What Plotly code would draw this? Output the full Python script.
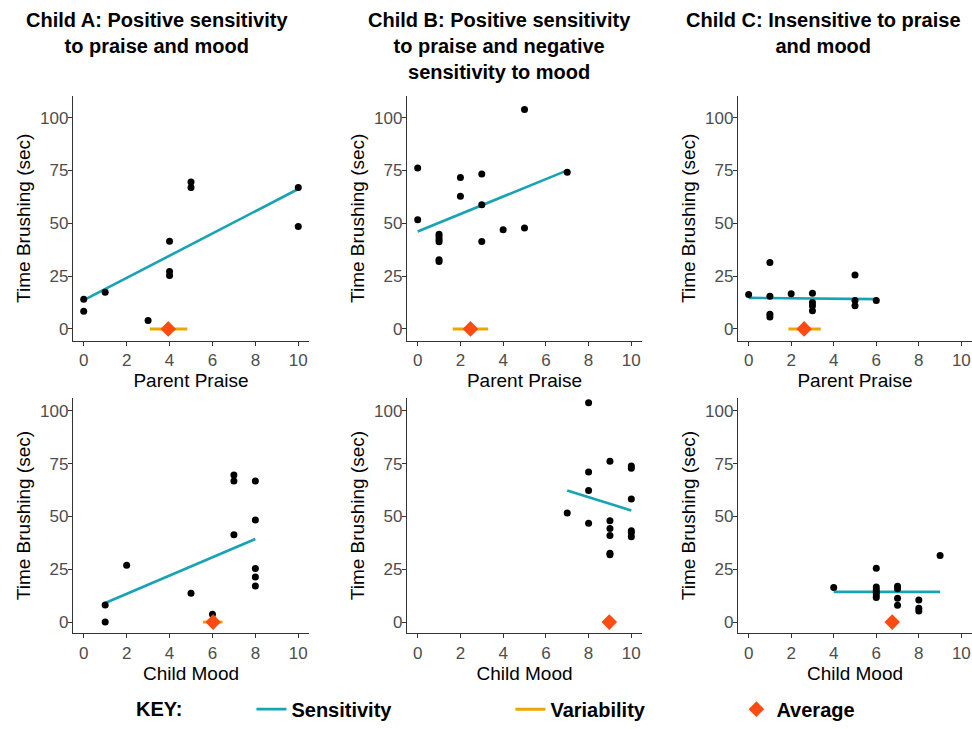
import plotly.graph_objects as go

# ---------------- data ----------------
x_tickvals = [0, 2, 4, 6, 8, 10]
y_tickvals = [0, 25, 50, 75, 100]

panel_titles = [
    "Child A: Positive sensitivity<br>to praise and mood",
    "Child B: Positive sensitivity<br>to praise and negative<br>sensitivity to mood",
    "Child C: Insensitive to praise<br>and mood",
]
x_titles = ["Parent Praise", "Child Mood"]
y_title = "Time Brushing (sec)"

# Child A
a_praise_x = [0, 0, 1, 3, 4, 4, 4, 5, 5, 10, 10]
a_praise_y = [14.0, 8.4, 17.4, 4.0, 41.5, 27.2, 25.3, 69.5, 66.9, 66.9, 48.5]
a_praise_sens_x = [0, 10]
a_praise_sens_y = [13.6, 66.2]
a_praise_avg = 3.94
a_praise_var = [3.08, 4.83]

a_mood_x = [1, 1, 2, 5, 6, 7, 7, 7, 8, 8, 8, 8, 8]
a_mood_y = [8.1, 0.0, 26.9, 13.7, 3.7, 69.6, 66.8, 41.3, 66.8, 48.3, 25.4, 21.3, 17.1]
a_mood_sens_x = [1, 8]
a_mood_sens_y = [9.0, 39.3]
a_mood_avg = 6.03
a_mood_var = [5.56, 6.47]

# Child B
b_praise_x = [0, 0, 1, 1, 1, 1, 1, 1, 2, 2, 3, 3, 3, 4, 5, 5, 7]
b_praise_y = [76.1, 51.6, 44.8, 43.6, 42.3, 41.2, 32.7, 31.9, 71.7, 62.8,
              73.3, 58.8, 41.3, 46.9, 103.8, 47.8, 74.1]
b_praise_sens_x = [0, 7]
b_praise_sens_y = [46.1, 75.0]
b_praise_avg = 2.47
b_praise_var = [1.64, 3.30]

b_mood_x = [7, 8, 8, 8, 8, 9, 9, 9, 9, 9, 9, 10, 10, 10, 10, 10, 10]
b_mood_y = [51.6, 103.8, 71.0, 62.3, 46.8, 76.1, 47.9, 44.3, 41.0, 32.6, 31.8,
            73.9, 72.8, 58.2, 43.2, 42.3, 40.4]
b_mood_sens_x = [7, 10]
b_mood_sens_y = [62.3, 52.8]
b_mood_avg = 8.97
b_mood_var = [8.85, 9.09]

# Child C
c_praise_x = [0, 1, 1, 1, 1, 2, 3, 3, 3, 3, 5, 5, 5, 6]
c_praise_y = [16.3, 31.4, 15.5, 6.9, 5.6, 16.6, 16.9, 12.5, 10.9, 8.6, 25.5, 13.4, 10.9, 13.4]
c_praise_sens_x = [0, 6]
c_praise_sens_y = [14.7, 14.1]
c_praise_avg = 2.61
c_praise_var = [1.87, 3.39]

c_mood_x = [4, 6, 6, 6, 6, 6, 6, 7, 7, 7, 7, 8, 8, 8, 9]
c_mood_y = [16.4, 25.5, 16.6, 15.3, 14.1, 12.8, 11.6, 16.9, 15.8, 11.3, 8.0, 10.5, 6.6, 5.3, 31.5]
c_mood_sens_x = [4, 9]
c_mood_sens_y = [14.3, 14.3]
c_mood_avg = 6.75
c_mood_var = [6.65, 6.85]

legend_names = ["Sensitivity", "Variability", "Average"]
legend_title = "KEY:"

# ---------------- styling ----------------
TEAL = "#17A3B3"
ORANGE = "#E8A800"
RED = "#FF4A12"
AXIS_COL = "#333333"
TICK_COL = "#4D4D4D"
BASE_FONT = "Liberation Sans, Arial, sans-serif"
BOLD_FONT = "Liberation Sans, Arial, sans-serif"

W, H = 972, 729
col_px = [(73, 309), (407, 642), (738, 972)]
row_px = [(97, 345), (403, 641)]
row_yrange = [[-5.6, 110.3], [-5.2, 106.0]]

panels = [
    # (row, col, xs, ys, sens_x, sens_y, avg, var)
    (0, 0, a_praise_x, a_praise_y, a_praise_sens_x, a_praise_sens_y, a_praise_avg, a_praise_var),
    (0, 1, b_praise_x, b_praise_y, b_praise_sens_x, b_praise_sens_y, b_praise_avg, b_praise_var),
    (0, 2, c_praise_x, c_praise_y, c_praise_sens_x, c_praise_sens_y, c_praise_avg, c_praise_var),
    (1, 0, a_mood_x, a_mood_y, a_mood_sens_x, a_mood_sens_y, a_mood_avg, a_mood_var),
    (1, 1, b_mood_x, b_mood_y, b_mood_sens_x, b_mood_sens_y, b_mood_avg, b_mood_var),
    (1, 2, c_mood_x, c_mood_y, c_mood_sens_x, c_mood_sens_y, c_mood_avg, c_mood_var),
]

fig = go.Figure()
layout_axes = {}
for i, (r, c, xs, ys, sx, sy, avg, var) in enumerate(panels):
    n = i + 1
    xa = "x" if n == 1 else f"x{n}"
    ya = "y" if n == 1 else f"y{n}"
    first = n == 1
    # sensitivity (regression) line
    fig.add_trace(go.Scatter(x=sx, y=sy, mode="lines", xaxis=xa, yaxis=ya,
                             line=dict(color=TEAL, width=2.6),
                             name=legend_names[0], legendgroup="s", showlegend=first,
                             legendwidth=214, hoverinfo="skip"))
    # variability
    fig.add_trace(go.Scatter(x=var, y=[0, 0], mode="lines", xaxis=xa, yaxis=ya,
                             line=dict(color=ORANGE, width=3),
                             name=legend_names[1], legendgroup="v", showlegend=first,
                             legendwidth=181, hoverinfo="skip"))
    # observations
    fig.add_trace(go.Scatter(x=xs, y=ys, mode="markers", xaxis=xa, yaxis=ya,
                             marker=dict(color="black", size=7),
                             showlegend=False))
    # average
    fig.add_trace(go.Scatter(x=[avg], y=[0], mode="markers", xaxis=xa, yaxis=ya,
                             marker=dict(color=RED, size=12, symbol="diamond"),
                             name=legend_names[2], legendgroup="a", showlegend=first))

    x0, x1 = col_px[c]
    y0, y1 = row_px[r]
    xkey = "xaxis" if n == 1 else f"xaxis{n}"
    ykey = "yaxis" if n == 1 else f"yaxis{n}"
    layout_axes[xkey] = dict(
        domain=[x0 / W, x1 / W], anchor=ya, range=[-0.5, 10.5],
        tickmode="array", tickvals=x_tickvals, ticks="outside", ticklen=4,
        tickwidth=1.2, tickcolor=AXIS_COL,
        showline=True, linecolor=AXIS_COL, linewidth=1.3,
        showgrid=False, zeroline=False,
        ticklabeloverflow="allow",
        tickfont=dict(family=BASE_FONT, size=17, color=TICK_COL),
        title=dict(text=x_titles[r], font=dict(family=BASE_FONT, size=19, color="black"), standoff=4),
    )
    layout_axes[ykey] = dict(
        domain=[1 - y1 / H, 1 - y0 / H], anchor=xa, range=row_yrange[r],
        tickmode="array", tickvals=y_tickvals, ticks="outside", ticklen=4,
        tickwidth=1.2, tickcolor=AXIS_COL,
        showline=True, linecolor=AXIS_COL, linewidth=1.3,
        showgrid=False, zeroline=False,
        ticklabelstandoff=-4,
        tickfont=dict(family=BASE_FONT, size=17, color=TICK_COL),
        title=dict(text=y_title, font=dict(family=BASE_FONT, size=19, color="black"), standoff=4),
    )

title_cx = [157, 499, 823]
annotations = [
    dict(text=t, x=title_cx[k] / W, y=1 - 7 / H, xref="paper", yref="paper",
         xanchor="center", yanchor="top", showarrow=False, align="center",
         font=dict(family=BOLD_FONT, size=20, color="black", weight="bold"))
    for k, t in enumerate(panel_titles)
]

fig.update_layout(
    width=W, height=H,
    margin=dict(l=0, r=0, t=0, b=0),
    paper_bgcolor="white", plot_bgcolor="white",
    annotations=annotations,
    showlegend=True,
    legend=dict(
        orientation="h", x=134 / W, xanchor="left", y=1 - 718 / H, yanchor="middle",
        title=dict(text=legend_title + "&nbsp;" * 11, side="left",
                   font=dict(family=BOLD_FONT, size=20, color="black", weight="bold")),
        font=dict(family=BOLD_FONT, size=20, color="black", weight="bold"),
        bgcolor="rgba(0,0,0,0)",
    ),
    **layout_axes,
)

# remove the default 8px page margin so the figure fills the window exactly
fig.write_html("out.html",
               config={"displayModeBar": False},
               post_script="document.body.style.margin='0';document.body.style.overflow='hidden';")
